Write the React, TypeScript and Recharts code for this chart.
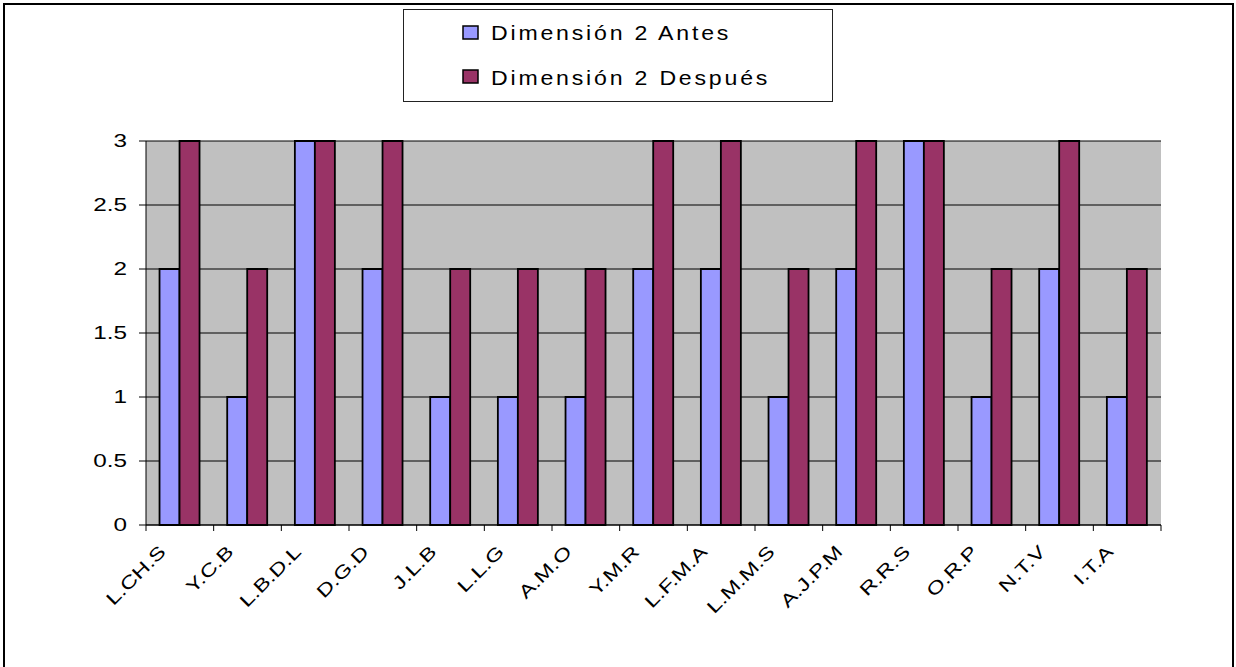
import { BarChart, Bar, XAxis, YAxis, CartesianGrid, Legend } from "recharts";

const names = ["L.CH.S", "Y.C.B", "L.B.D.L", "D.G.D", "J.L.B", "L.L.G", "A.M.O", "Y.M.R", "L.F.M.A", "L.M.M.S", "A.J.P.M", "R.R.S", "O.R.P", "N.T.V", "I.T.A"];
const antes = [2, 1, 3, 2, 1, 1, 1, 2, 2, 1, 2, 3, 1, 2, 1];
const despues = [3, 2, 3, 3, 2, 2, 2, 3, 3, 2, 3, 3, 2, 3, 2];
const yTicks = [0, 0.5, 1, 1.5, 2, 2.5, 3];

const data = names.map((name, i) => ({ name, antes: antes[i], despues: despues[i] }));

const FONT = '"Liberation Sans", Arial, sans-serif';

// the original text is drawn wide, so stretch it sideways
const XTick = (props: any) => {
  const { x, y, payload, index } = props;
  const half = payload?.offset ?? 33.8;
  const lx = x - 13;
  const ly = y + 28;
  return (
    <g>
      <line x1={x - half} y1={y} x2={x - half} y2={y + 6} stroke="#000" />
      {index === names.length - 1 && (
        <line x1={x + half} y1={y} x2={x + half} y2={y + 6} stroke="#000" />
      )}
      <g transform={`translate(${lx}, ${ly}) rotate(-45) scale(1.3, 1)`}>
        <text x={0} y={0} textAnchor="end" fontFamily={FONT} fontSize={18} fill="#000">
          {payload.value}
        </text>
      </g>
    </g>
  );
};

const YTick = (props: any) => {
  const { x, y, payload } = props;
  return (
    <g>
      <line x1={x} y1={y} x2={x - 7} y2={y} stroke="#000" />
      <g transform={`translate(${x - 19}, ${y}) scale(1.35, 1)`}>
        <text x={0} y={0} dy="0.36em" textAnchor="end" fontFamily={FONT} fontSize={18} fill="#000">
          {payload.value}
        </text>
      </g>
    </g>
  );
};

const LegendBox = () => (
  <div style={{ width: 430, height: 93, border: "1px solid #222", background: "#fff", boxSizing: "border-box" }}>
    <svg width={428} height={91}>
      <rect x={59} y={16} width={15} height={13} fill="#9999FF" stroke="#000" strokeWidth={1.5} />
      <g transform="translate(87, 30) scale(1.1, 1)">
        <text x={0} y={0} fontFamily={FONT} fontSize={21} letterSpacing={2.55} fill="#000">
          Dimensión 2 Antes
        </text>
      </g>
      <rect x={59} y={60} width={15} height={13} fill="#993366" stroke="#000" strokeWidth={1.5} />
      <g transform="translate(87, 75) scale(1.1, 1)">
        <text x={0} y={0} fontFamily={FONT} fontSize={21} letterSpacing={2.55} fill="#000">
          Dimensión 2 Después
        </text>
      </g>
    </svg>
  </div>
);

export default function App() {
  return (
    <div style={{ position: "absolute", left: 0, top: 0, width: 1236, height: 667, overflow: "hidden", background: "#fff" }}>
      <BarChart
        width={1236}
        height={667}
        data={data}
        margin={{ top: 141, right: 75, bottom: 82, left: 76 }}
        barCategoryGap="20%"
        barGap={0}
      >
        <CartesianGrid vertical={false} stroke="#000" fill="#C0C0C0" />
        <XAxis
          dataKey="name"
          interval={0}
          height={60}
          tickSize={0}
          tickMargin={0}
          tickLine={false}
          axisLine={{ stroke: "#000" }}
          tick={<XTick />}
        />
        <XAxis xAxisId="top" dataKey="name" orientation="top" height={0} tick={false} tickLine={false} axisLine={{ stroke: "#808080", strokeWidth: 2 }} />
        <YAxis
          domain={[0, 3]}
          ticks={yTicks}
          width={70}
          tickSize={0}
          tickMargin={0}
          tickLine={false}
          axisLine={{ stroke: "#000" }}
          tick={<YTick />}
        />
        <YAxis yAxisId="right" orientation="right" width={0} tick={false} tickLine={false} axisLine={{ stroke: "#808080", strokeWidth: 2 }} />
        <Legend
          layout="vertical"
          align="center"
          verticalAlign="middle"
          wrapperStyle={{ top: 9, left: 403, width: 430, height: 93 }}
          content={<LegendBox />}
        />
        <Bar dataKey="antes" name="Dimensión 2 Antes" fill="#9999FF" stroke="#000" strokeWidth={1.8} isAnimationActive={false} />
        <Bar dataKey="despues" name="Dimensión 2 Después" fill="#993366" stroke="#000" strokeWidth={1.8} isAnimationActive={false} />
      </BarChart>
      <div
        style={{
          position: "absolute",
          left: 3,
          top: 3,
          width: 1231,
          height: 680,
          border: "2.5px solid #000",
          boxSizing: "border-box",
          pointerEvents: "none",
        }}
      />
    </div>
  );
}
